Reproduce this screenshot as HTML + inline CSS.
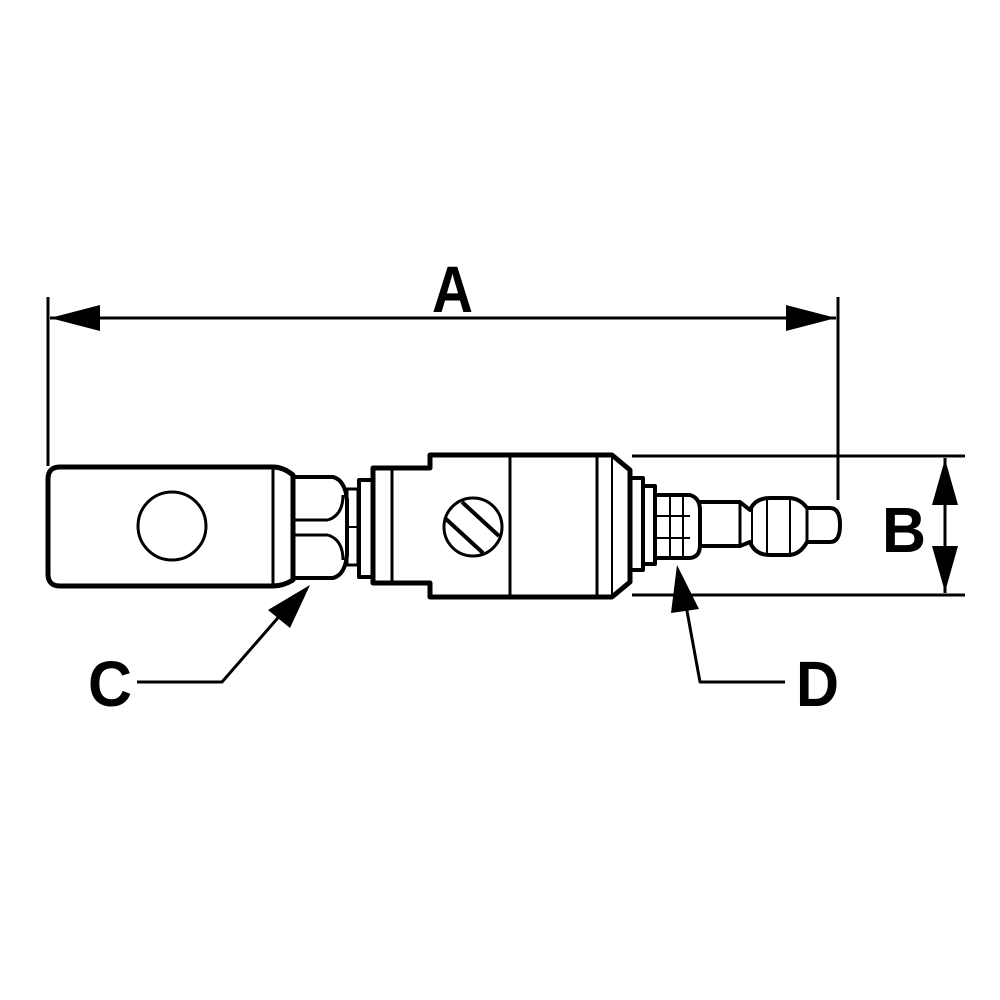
<!DOCTYPE html>
<html><head><meta charset="utf-8"><style>html,body{margin:0;padding:0;background:#fff}svg{display:block}</style></head>
<body>
<svg width="1000" height="1000" viewBox="0 0 1000 1000" xmlns="http://www.w3.org/2000/svg">
<rect width="1000" height="1000" fill="#fff"/>
<g stroke="#000" fill="none" stroke-linejoin="round">
<line x1="48" y1="297" x2="48" y2="466" stroke-width="3"/>
<line x1="838" y1="297" x2="838" y2="500" stroke-width="3"/>
<line x1="50" y1="318" x2="836" y2="318" stroke-width="3"/>
<polygon points="50,318 100,305 100,331" fill="#000" stroke="none"/>
<polygon points="836,318 786,305 786,331" fill="#000" stroke="none"/>
<line x1="632" y1="456" x2="965" y2="456" stroke-width="3"/>
<line x1="632" y1="595" x2="965" y2="595" stroke-width="3"/>
<line x1="945" y1="458" x2="945" y2="593" stroke-width="3"/>
<polygon points="945,459 932,505 958,505" fill="#000" stroke="none"/>
<polygon points="945,592 932,546 958,546" fill="#000" stroke="none"/>
<path d="M60,467 L273,467 Q283,467 293,475 L293,580 Q283,586 273,586 L60,586 Q48,586 48,574 L48,479 Q48,467 60,467 Z" stroke-width="5"/>
<line x1="273" y1="467" x2="273" y2="586" stroke-width="3"/>
<circle cx="172" cy="526" r="34" stroke-width="3"/>
<path d="M293,477 L333,477 Q345,480 347,500 L347,555 Q345,575 333,578 L293,578" stroke-width="4"/>
<line x1="293" y1="520" x2="328" y2="520" stroke-width="3"/>
<line x1="293" y1="535" x2="328" y2="535" stroke-width="3"/>
<path d="M328,520 Q343,515 343,495" stroke-width="3"/>
<path d="M328,535 Q343,540 343,560" stroke-width="3"/>
<rect x="347" y="489" width="11" height="76" stroke-width="3"/>
<line x1="347" y1="527" x2="358" y2="527" stroke-width="2"/>
<rect x="359" y="480" width="14" height="97" stroke-width="4"/>
<path d="M373,468 L430,468 L430,455 L612,455 L630,470 L630,582 L612,597 L430,597 L430,583 L373,583 Z" stroke-width="5"/>
<line x1="392" y1="468" x2="392" y2="583" stroke-width="3"/>
<line x1="510" y1="455" x2="510" y2="597" stroke-width="3"/>
<line x1="597" y1="455" x2="597" y2="597" stroke-width="3"/>
<line x1="612" y1="455" x2="612" y2="597" stroke-width="2"/>
<circle cx="473" cy="527" r="29" stroke-width="3"/>
<line x1="446" y1="519" x2="483" y2="553" stroke-width="4"/>
<line x1="462" y1="502" x2="499" y2="536" stroke-width="4"/>
<rect x="630" y="478" width="13" height="92" stroke-width="4"/>
<rect x="643" y="486" width="12" height="78" stroke-width="4"/>
<path d="M655,495 L690,495 Q700,498 700,510 L700,545 Q700,557 690,558 L655,558 Z" stroke-width="4"/>
<line x1="670" y1="495" x2="670" y2="558" stroke-width="2"/>
<line x1="683" y1="495" x2="683" y2="558" stroke-width="2"/>
<line x1="655" y1="516" x2="690" y2="516" stroke-width="2"/>
<line x1="655" y1="538" x2="690" y2="538" stroke-width="2"/>
<path d="M700,502 L740,502 L750,510 Q755,498 770,498 L788,498 Q800,498 807,508 L830,508 Q840,508 840,525 Q840,542 830,542 L807,542 Q800,555 788,555 L770,555 Q755,555 750,542 L740,546 L700,546" stroke-width="4"/>
<line x1="740" y1="502" x2="740" y2="546" stroke-width="3"/>
<line x1="752" y1="508" x2="752" y2="544" stroke-width="2"/>
<line x1="767" y1="498" x2="767" y2="555" stroke-width="2"/>
<line x1="790" y1="498" x2="790" y2="555" stroke-width="2"/>
<line x1="807" y1="508" x2="807" y2="542" stroke-width="3"/>
<polyline points="137,682 222,682 290,604" stroke-width="3"/>
<polygon points="310,585 268,610 290,628" fill="#000" stroke="none"/>
<polyline points="785,682 700,682 685,600" stroke-width="3"/>
<polygon points="677,565 671,613 699,609" fill="#000" stroke="none"/>
</g>
<g font-family="Liberation Sans, sans-serif" font-weight="bold" fill="#000">
<text x="432" y="312" font-size="66" textLength="41" lengthAdjust="spacingAndGlyphs">A</text>
<text x="882" y="552" font-size="64" textLength="44" lengthAdjust="spacingAndGlyphs">B</text>
<text x="88" y="706" font-size="64" textLength="44" lengthAdjust="spacingAndGlyphs">C</text>
<text x="796" y="706" font-size="64" textLength="43" lengthAdjust="spacingAndGlyphs">D</text>
</g>
</svg>
</body></html>
